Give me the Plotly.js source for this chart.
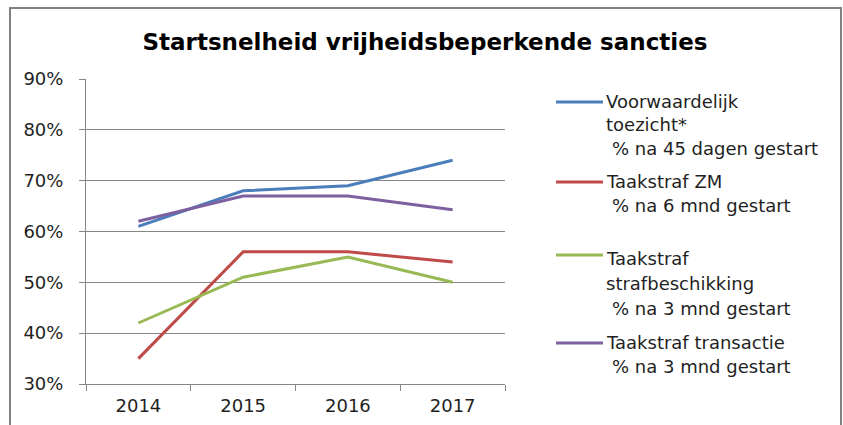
<!DOCTYPE html>
<html>
<head>
<meta charset="utf-8">
<script src="https://cdn.plot.ly/plotly-3.0.1.min.js"></script>
<style>
  html, body { margin: 0; padding: 0; background: #ffffff; }
  #chart { width: 843px; height: 425px; }
</style>
</head>
<body>
<div id="chart"></div>
<script>
// ---- data ----
const years = ["2014", "2015", "2016", "2017"];
const voorwaardelijkToezicht = [0.61, 0.68, 0.69, 0.74];
const taakstrafZM = [0.35, 0.56, 0.56, 0.54];
const taakstrafStrafbeschikking = [0.42, 0.51, 0.55, 0.50];
const taakstrafTransactie = [0.62, 0.67, 0.67, 0.643];
const seriesNames = ["Voorwaardelijk toezicht*", "Taakstraf ZM", "Taakstraf strafbeschikking", "Taakstraf transactie"];
const legendLabels = [
  ["Voorwaardelijk", "toezicht*", "% na 45 dagen gestart"],
  ["Taakstraf ZM", "% na 6 mnd gestart"],
  ["Taakstraf", "strafbeschikking", "% na 3 mnd gestart"],
  ["Taakstraf transactie", "% na 3 mnd gestart"]
];
const yTickVals = [0.3, 0.4, 0.5, 0.6, 0.7, 0.8, 0.9];
const chartTitle = "Startsnelheid vrijheidsbeperkende sancties";

// ---- styling ----
const colors = ["#4A7EBB", "#BE4B48", "#98B954", "#7D60A0"];
const values = [voorwaardelijkToezicht, taakstrafZM, taakstrafStrafbeschikking, taakstrafTransactie];
const FONT = "DejaVu Sans, Liberation Sans, sans-serif";
const TEXT = "#1f1f1f";

// plot area in pixels
const L = 86, R = 505, T = 79, B = 384;
const fx = px => (px - L) / (R - L);
const fy = py => (B - py) / (B - T);

// legend layout (pixel positions)
const legendLineY = [102, 182, 255, 343];
const legendTextY = [[101, 124, 148], [181, 205], [258, 283, 308], [342, 366]];
const legendIndent = [[0, 0, 6], [0, 6], [0, 0, 6], [0, 6]];

const traces = values.map((v, i) => ({
  type: "scatter",
  mode: "lines",
  x: years,
  y: v,
  name: seriesNames[i],
  line: { color: colors[i], width: 3 },
  showlegend: false,
  hoverinfo: "x+y+name"
}));

const shapes = [{
  type: "rect", xref: "paper", yref: "paper",
  x0: fx(10), x1: fx(841), y0: fy(440), y1: fy(8),
  line: { color: "#808080", width: 2 }, fillcolor: "rgba(0,0,0,0)", layer: "below"
}];
const annotations = [];
legendLabels.forEach((lines, i) => {
  shapes.push({
    type: "line", xref: "paper", yref: "paper",
    x0: fx(556), x1: fx(603), y0: fy(legendLineY[i]), y1: fy(legendLineY[i]),
    line: { color: colors[i], width: 3 }
  });
  lines.forEach((t, j) => {
    annotations.push({
      xref: "paper", yref: "paper",
      x: fx(604 + legendIndent[i][j]), y: fy(legendTextY[i][j]),
      xanchor: "left", yanchor: "middle",
      text: t, showarrow: false,
      font: { family: FONT, size: 18, color: TEXT }
    });
  });
});

const layout = {
  width: 843, height: 425,
  margin: { l: L, r: 843 - R, t: T, b: 425 - B, pad: 0 },
  paper_bgcolor: "#ffffff", plot_bgcolor: "#ffffff",
  title: {
    text: "<b>" + chartTitle + "</b>",
    x: 425 / 843, xref: "container", xanchor: "center",
    y: 1 - 42 / 425, yref: "container", yanchor: "middle",
    font: { family: FONT, size: 23, color: "#000000" }
  },
  xaxis: {
    type: "category",
    range: [-0.5, 3.5],
    tickson: "boundaries",
    ticks: "outside", ticklen: 6, tickcolor: "#868686", tickwidth: 1,
    showline: true, linecolor: "#868686", linewidth: 1,
    showgrid: false, zeroline: false,
    ticklabelstandoff: 5,
    tickfont: { family: FONT, size: 18, color: TEXT },
    fixedrange: true
  },
  yaxis: {
    range: [0.3, 0.9],
    tickvals: yTickVals,
    tickformat: ".0%",
    ticks: "outside", ticklen: 6, tickcolor: "#868686", tickwidth: 1,
    showline: true, linecolor: "#868686", linewidth: 1,
    showgrid: true, gridcolor: "#868686", gridwidth: 1,
    zeroline: false,
    ticklabelstandoff: 12,
    tickfont: { family: FONT, size: 18, color: TEXT },
    fixedrange: true
  },
  shapes: shapes,
  annotations: annotations,
  showlegend: false
};

Plotly.newPlot("chart", traces, layout, { displayModeBar: false, staticPlot: true });
</script>
</body>
</html>
